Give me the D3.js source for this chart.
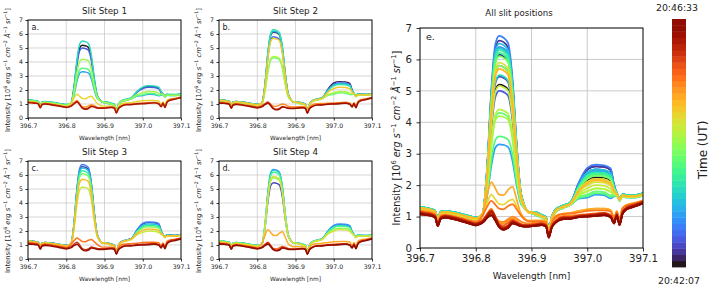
<!DOCTYPE html>
<html><head><meta charset="utf-8">
<script src="https://cdn.jsdelivr.net/npm/d3@7"></script>
<style>body{margin:0;background:#fff} svg{display:block} text{font-family:"DejaVu Sans",sans-serif;fill:#222}</style>
</head><body><svg id="c" width="712" height="287"></svg>
<script>
// ---------------- DATA ----------------
const wavelengths = [396.700,396.710,396.720,396.727,396.732,396.737,396.745,396.760,396.775,396.790,396.800,
  396.806,396.813,396.820,396.828,396.835,396.842,396.850,396.858,396.866,396.873,396.880,396.887,396.895,
  396.905,396.918,396.926,396.931,396.936,396.945,396.957,396.970,
  396.985,397.000,397.015,397.030,397.042,397.048,
  397.053,397.058,397.063,397.070,397.085,397.100];
const xTicks = [396.7,396.8,396.9,397.0,397.1];
const yTicks = [0,1,2,3,4,5,6,7];
const timeLabels = ["20:42:07","20:46:33"];
const nTimes = 40;
const panelTitles = ["Slit Step 1","Slit Step 2","Slit Step 3","Slit Step 4","All slit positions"];
const panelLetters = ["a.","b.","c.","d.","e."];

const quietA = [1.1,1.08,1.05,1.0,0.72,0.95,1.0,0.95,0.88,0.8,0.75, 0.78,0.85,1.0,1.15,0.95,0.7,0.62,0.68,0.82,0.78,0.72,0.7,0.7, 0.72,0.75,0.7,0.35,0.65,0.85,0.95,0.95, 1.0,1.02,1.05,1.08,1.0,0.8, 1.05,0.75,1.1,1.25,1.35,1.45];
const quietB = [1.07,1.05,1.02,0.97,0.7,0.92,0.97,0.92,0.85,0.77,0.72, 0.75,0.82,0.95,1.05,0.88,0.66,0.58,0.64,0.78,0.75,0.7,0.68,0.68, 0.7,0.73,0.68,0.33,0.63,0.83,0.92,0.93, 0.98,1.0,1.02,1.05,0.98,0.78, 1.02,0.73,1.07,1.22,1.32,1.42];
const quietC = [1.13,1.11,1.08,1.03,0.75,0.98,1.03,0.98,0.91,0.83,0.78, 0.81,0.88,1.05,1.2,1.0,0.74,0.66,0.72,0.86,0.81,0.75,0.73,0.73, 0.75,0.78,0.73,0.38,0.68,0.88,0.98,0.98, 1.03,1.05,1.08,1.11,1.03,0.83, 1.08,0.78,1.13,1.28,1.38,1.48];

const step1Times = [0,4,8,12,16,20,24,28,32,36];
const step1Intensity = [
 [1.28,1.25,1.21,1.16,0.9,1.12,1.15,1.11,1.05,0.98,0.94, 0.98,1.10,2.08,3.95,5.0,5.2,5.16,5.04,4.2,2.79,1.69,1.32,1.14, 1.12,1.02,0.95,0.52,0.92,1.22,1.32,1.42, 1.87,2.15,2.25,2.23,2.13,1.86, 1.72,1.55,1.68,1.66,1.65,1.72],
 [1.25,1.22,1.18,1.13,0.87,1.09,1.12,1.08,1.02,0.95,0.91, 0.98,1.10,2.03,3.81,4.8,5.0,4.96,4.84,4.05,2.71,1.67,1.32,1.14, 1.09,0.99,0.92,0.49,0.89,1.19,1.29,1.39, 1.84,2.1,2.2,2.18,2.08,1.84, 1.69,1.52,1.65,1.63,1.62,1.69],
 [1.23,1.2,1.16,1.11,0.85,1.07,1.1,1.06,1.0,0.93,0.89, 0.98,1.06,1.6,2.62,3.19,3.3,3.28,3.21,2.77,2.03,1.46,1.27,1.14, 1.07,0.97,0.9,0.47,0.87,1.17,1.27,1.37, 1.57,1.6,1.7,1.68,1.58,1.64, 1.67,1.5,1.63,1.61,1.6,1.67],
 [1.31,1.28,1.24,1.19,0.93,1.15,1.18,1.14,1.08,1.01,0.97, 0.98,1.11,2.15,4.16,5.28,5.5,5.46,5.32,4.42,2.91,1.73,1.33,1.14, 1.15,1.05,0.98,0.55,0.95,1.25,1.35,1.45, 1.9,2.2,2.3,2.28,2.18,1.88, 1.75,1.58,1.71,1.69,1.68,1.75],
 [1.23,1.2,1.16,1.11,0.85,1.07,1.1,1.06,1.0,0.93,0.89, 0.98,1.07,1.66,2.8,3.43,3.55,3.53,3.45,2.96,2.13,1.49,1.27,1.14, 1.07,0.97,0.9,0.47,0.87,1.17,1.27,1.37, 1.59,1.65,1.75,1.73,1.63,1.66, 1.67,1.5,1.63,1.61,1.6,1.67],
 [1.25,1.22,1.18,1.13,0.87,1.09,1.12,1.08,1.02,0.95,0.91, 0.98,1.08,1.83,3.25,4.05,4.2,4.17,4.08,3.45,2.39,1.57,1.29,1.14, 1.09,0.99,0.92,0.49,0.89,1.19,1.29,1.39, 1.68,1.8,1.9,1.88,1.78,1.72, 1.69,1.52,1.65,1.63,1.62,1.69],
 [1.18,1.15,1.12,1.07,0.8,1.02,1.05,1.0,0.94,0.87,0.83, 0.88,1.07,1.42,1.7,1.55,1.4,1.38,1.49,1.55,1.33,1.08,0.92,0.85, 0.85,0.85,0.82,0.42,0.78,1.02,1.08,1.1, 1.18,1.23,1.25,1.25,1.21,0.95, 1.15,0.9,1.25,1.35,1.42,1.5],
 [1.13,1.1,1.07,1.02,0.74,0.97,1.02,0.97,0.9,0.82,0.77, 0.8,0.88,1.08,1.25,1.0,0.8,0.78,0.86,0.95,0.88,0.78,0.72,0.71, 0.73,0.76,0.71,0.36,0.66,0.87,0.97,0.98, 1.03,1.06,1.08,1.1,1.03,0.82, 1.08,0.78,1.13,1.28,1.38,1.48],
 quietC,
 quietA
];

const step2Times = [1,5,9,13,17,21,25,29,33,37];
const step2Intensity = [
 [1.31,1.28,1.24,1.19,0.93,1.15,1.18,1.14,1.08,1.01,0.97, 0.98,1.12,2.31,4.62,5.9,6.15,6.1,5.95,4.91,3.17,1.81,1.35,1.14, 1.15,1.05,0.98,0.55,0.95,1.25,1.35,1.45, 2.06,2.5,2.6,2.58,2.48,2.0, 1.75,1.58,1.71,1.69,1.68,1.75],
 [1.28,1.25,1.21,1.16,0.9,1.12,1.15,1.11,1.05,0.98,0.94, 0.98,1.11,2.23,4.37,5.57,5.8,5.75,5.61,4.65,3.03,1.76,1.34,1.14, 1.12,1.02,0.95,0.52,0.92,1.22,1.32,1.42, 2.01,2.4,2.5,2.48,2.38,1.96, 1.72,1.55,1.68,1.66,1.65,1.72],
 [1.31,1.28,1.24,1.19,0.93,1.15,1.18,1.14,1.08,1.01,0.97, 0.98,1.12,2.33,4.65,5.95,6.2,6.15,6.0,4.95,3.19,1.81,1.35,1.14, 1.15,1.05,0.98,0.55,0.95,1.25,1.35,1.45, 1.98,2.35,2.45,2.43,2.33,1.94, 1.75,1.58,1.71,1.69,1.68,1.75],
 [1.31,1.28,1.24,1.19,0.93,1.15,1.18,1.14,1.08,1.01,0.97, 0.98,1.12,2.35,4.72,6.04,6.3,6.25,6.09,5.02,3.23,1.82,1.36,1.14, 1.15,1.05,0.98,0.55,0.95,1.25,1.35,1.45, 1.95,2.3,2.4,2.38,2.28,1.92, 1.75,1.58,1.71,1.69,1.68,1.75],
 [1.25,1.22,1.18,1.13,0.87,1.09,1.12,1.08,1.02,0.95,0.91, 0.98,1.08,1.85,3.32,4.14,4.3,4.27,4.17,3.52,2.43,1.58,1.3,1.14, 1.09,0.99,0.92,0.49,0.89,1.19,1.29,1.39, 1.62,1.7,1.8,1.78,1.68,1.68, 1.69,1.52,1.65,1.63,1.62,1.69],
 [1.25,1.22,1.18,1.13,0.87,1.09,1.12,1.08,1.02,0.95,0.91, 0.98,1.09,1.88,3.39,4.24,4.4,4.37,4.27,3.6,2.47,1.6,1.3,1.14, 1.09,0.99,0.92,0.49,0.89,1.19,1.29,1.39, 1.68,1.8,1.9,1.88,1.78,1.72, 1.69,1.52,1.65,1.63,1.62,1.69],
 [1.28,1.25,1.21,1.16,0.9,1.12,1.15,1.11,1.05,0.98,0.94, 0.98,1.11,2.2,4.3,5.47,5.7,5.65,5.52,4.57,2.99,1.75,1.34,1.14, 1.12,1.02,0.95,0.52,0.92,1.22,1.32,1.42, 1.84,2.1,2.2,2.18,2.08,1.84, 1.72,1.55,1.68,1.66,1.65,1.72],
 [1.15,1.12,1.09,1.04,0.77,0.99,1.02,0.97,0.91,0.84,0.8, 0.84,0.92,1.02,1.1,0.98,0.85,0.83,0.92,1.0,0.95,0.85,0.8,0.78, 0.8,0.82,0.78,0.4,0.74,0.96,1.02,1.04, 1.05,1.08,1.1,1.12,1.06,0.88, 1.1,0.82,1.18,1.3,1.38,1.47],
 quietA,
 quietB
];

const step3Times = [2,6,10,14,18,22,26,30,34,38];
const step3Intensity = [
 [1.31,1.28,1.24,1.19,0.93,1.15,1.18,1.14,1.08,1.01,0.97, 0.98,1.13,2.43,4.93,6.33,6.6,6.55,6.38,5.25,3.35,1.86,1.37,1.14, 1.15,1.05,0.98,0.55,0.95,1.25,1.35,1.45, 2.06,2.5,2.6,2.58,2.48,2.0, 1.75,1.58,1.71,1.69,1.68,1.75],
 [1.31,1.28,1.24,1.19,0.93,1.15,1.18,1.14,1.08,1.01,0.97, 0.98,1.13,2.46,5.04,6.47,6.75,6.69,6.52,5.36,3.41,1.88,1.37,1.14, 1.15,1.05,0.98,0.55,0.95,1.25,1.35,1.45, 2.09,2.55,2.65,2.63,2.53,2.02, 1.75,1.58,1.71,1.69,1.68,1.75],
 [1.31,1.28,1.24,1.19,0.93,1.15,1.18,1.14,1.08,1.01,0.97, 0.98,1.13,2.4,4.86,6.23,6.5,6.45,6.28,5.17,3.31,1.85,1.36,1.14, 1.15,1.05,0.98,0.55,0.95,1.25,1.35,1.45, 2.01,2.4,2.5,2.48,2.38,1.96, 1.75,1.58,1.71,1.69,1.68,1.75],
 [1.28,1.25,1.21,1.16,0.9,1.12,1.15,1.11,1.05,0.98,0.94, 0.98,1.12,2.35,4.72,6.04,6.3,6.25,6.09,5.02,3.23,1.82,1.36,1.14, 1.12,1.02,0.95,0.52,0.92,1.22,1.32,1.42, 1.95,2.3,2.4,2.38,2.28,1.92, 1.72,1.55,1.68,1.66,1.65,1.72],
 [1.28,1.25,1.21,1.16,0.9,1.12,1.15,1.11,1.05,0.98,0.94, 0.98,1.12,2.3,4.58,5.85,6.1,6.05,5.9,4.87,3.15,1.8,1.35,1.14, 1.12,1.02,0.95,0.52,0.92,1.22,1.32,1.42, 1.9,2.2,2.3,2.28,2.18,1.88, 1.72,1.55,1.68,1.66,1.65,1.72],
 [1.25,1.22,1.18,1.13,0.87,1.09,1.12,1.08,1.02,0.95,0.91, 0.98,1.1,2.06,3.92,4.95,5.15,5.11,4.99,4.16,2.77,1.69,1.32,1.14, 1.09,0.99,0.92,0.49,0.89,1.19,1.29,1.39, 1.73,1.9,2.0,1.98,1.88,1.76, 1.69,1.52,1.65,1.63,1.62,1.69],
 [1.28,1.25,1.21,1.16,0.9,1.12,1.15,1.11,1.05,0.98,0.94, 0.98,1.11,2.2,4.3,5.47,5.7,5.65,5.52,4.57,2.99,1.75,1.34,1.14, 1.12,1.02,0.95,0.52,0.92,1.22,1.32,1.42, 1.81,2.05,2.15,2.13,2.03,1.82, 1.72,1.55,1.68,1.66,1.65,1.72],
 [1.18,1.15,1.12,1.07,0.8,1.02,1.05,1.0,0.94,0.87,0.83, 0.88,1.05,1.3,1.5,1.38,1.25,1.23,1.34,1.4,1.24,1.06,0.92,0.85, 0.85,0.85,0.82,0.42,0.78,1.02,1.08,1.1, 1.13,1.18,1.2,1.2,1.16,0.95, 1.15,0.9,1.25,1.35,1.42,1.5],
 quietC,
 quietB
];

const step4Times = [3,7,11,15,19,23,27,31,35,39];
const step4Intensity = [
 [1.28,1.25,1.21,1.16,0.9,1.12,1.15,1.11,1.05,0.98,0.94, 0.98,1.11,2.14,4.13,5.23,5.45,5.41,5.28,4.38,2.89,1.72,1.33,1.14, 1.12,1.02,0.95,0.52,0.92,1.22,1.32,1.42, 1.98,2.35,2.45,2.43,2.33,1.94, 1.72,1.55,1.68,1.66,1.65,1.72],
 [1.31,1.28,1.24,1.19,0.93,1.15,1.18,1.14,1.08,1.01,0.97, 0.98,1.13,2.38,4.79,6.14,6.4,6.35,6.19,5.1,3.27,1.84,1.36,1.14, 1.15,1.05,0.98,0.55,0.95,1.25,1.35,1.45, 2.01,2.4,2.5,2.48,2.38,1.96, 1.75,1.58,1.71,1.69,1.68,1.75],
 [1.31,1.28,1.24,1.19,0.93,1.15,1.18,1.14,1.08,1.01,0.97, 0.98,1.13,2.36,4.76,6.09,6.35,6.3,6.14,5.06,3.25,1.83,1.36,1.14, 1.15,1.05,0.98,0.55,0.95,1.25,1.35,1.45, 1.95,2.3,2.4,2.38,2.28,1.92, 1.75,1.58,1.71,1.69,1.68,1.75],
 [1.28,1.25,1.21,1.16,0.9,1.12,1.15,1.11,1.05,0.98,0.94, 0.98,1.12,2.33,4.65,5.95,6.2,6.15,6.0,4.95,3.19,1.81,1.35,1.14, 1.12,1.02,0.95,0.52,0.92,1.22,1.32,1.42, 1.92,2.25,2.35,2.33,2.23,1.9, 1.72,1.55,1.68,1.66,1.65,1.72],
 [1.28,1.25,1.21,1.16,0.9,1.12,1.15,1.11,1.05,0.98,0.94, 0.98,1.11,2.23,4.37,5.57,5.8,5.75,5.61,4.65,3.03,1.76,1.34,1.14, 1.12,1.02,0.95,0.52,0.92,1.22,1.32,1.42, 1.84,2.1,2.2,2.18,2.08,1.84, 1.72,1.55,1.68,1.66,1.65,1.72],
 [1.25,1.22,1.18,1.13,0.87,1.09,1.12,1.08,1.02,0.95,0.91, 0.98,1.12,2.25,4.44,5.66,5.9,5.85,5.71,4.72,3.07,1.78,1.34,1.14, 1.09,0.99,0.92,0.49,0.89,1.19,1.29,1.39, 1.79,2.0,2.1,2.08,1.98,1.8, 1.69,1.52,1.65,1.63,1.62,1.69],
 [1.2,1.17,1.14,1.09,0.82,1.04,1.07,1.02,0.96,0.89,0.85, 0.9,1.11,1.66,2.1,1.9,1.7,1.68,1.85,1.95,1.57,1.14,0.95,0.87, 0.88,0.88,0.84,0.44,0.8,1.04,1.1,1.12, 1.18,1.23,1.25,1.25,1.21,0.97, 1.18,0.92,1.27,1.37,1.44,1.52],
 [1.12,1.1,1.07,1.02,0.74,0.97,1.02,0.97,0.9,0.82,0.77, 0.8,0.87,1.05,1.2,0.97,0.75,0.72,0.8,0.9,0.84,0.76,0.72,0.71, 0.73,0.76,0.71,0.36,0.66,0.87,0.97,0.98, 1.03,1.06,1.08,1.1,1.03,0.82, 1.08,0.78,1.13,1.28,1.38,1.48],
 quietA,
 quietB
];

// ---------------- DRAWING ----------------
const svg = d3.select("#c");
const color = t => d3.interpolateTurbo(t / (nTimes - 1));

function toSeries(times, rows){ return times.map((t,i)=>({t, v: rows[i]})); }
const allSteps = [toSeries(step1Times,step1Intensity),toSeries(step2Times,step2Intensity),
                  toSeries(step3Times,step3Intensity),toSeries(step4Times,step4Intensity)];
const allSeries = allSteps.flat().sort((a,b)=>a.t-b.t);

function intensityLabel(sel, fs){
  const parts = [["Intensity [10",0,0],["6",1,0],[" erg s",0,1],["\u22121",1,0],[" cm",0,1],["\u22122",1,0],
                 [" \u00C5",0,1],["\u22121",1,0],[" sr",0,1],["\u22121",1,0],["]",0,0]];
  let sup = false;
  parts.forEach(([txt,isSup,it])=>{
    const ts = sel.append("tspan").text(txt);
    if(isSup && !sup){ ts.attr("dy", -0.42*fs); sup = true; }
    else if(!isSup && sup){ ts.attr("dy", 0.42*fs); sup = false; }
    ts.attr("font-size", isSup ? fs*0.7 : fs);
    if(it) ts.attr("font-style","italic");
  });
}

const layouts = [
  {l:28, r:181, t:20, b:118, small:true, titleX:104.5, titleY:13.5, ylx:10},
  {l:219, r:372, t:20, b:118, small:true, titleX:295.5, titleY:13.5, ylx:201},
  {l:28, r:181, t:161, b:259, small:true, titleX:104.5, titleY:155, ylx:10},
  {l:219, r:372, t:161, b:259, small:true, titleX:295.5, titleY:155, ylx:201},
  {l:420, r:643, t:28, b:248, small:false, titleX:519, titleY:16, ylx:400}
];

layouts.forEach((L, pi)=>{
  const series = pi < 4 ? allSteps[pi] : allSeries;
  const s = L.small;
  const x = d3.scaleLinear().domain([xTicks[0], xTicks[xTicks.length-1]]).range([L.l, L.r]);
  const y = d3.scaleLinear().domain([yTicks[0], yTicks[yTicks.length-1]]).range([L.b, L.t]);
  const g = svg.append("g");
  const clipId = "clip"+pi;
  svg.append("clipPath").attr("id",clipId).append("rect")
    .attr("x",L.l).attr("y",L.t).attr("width",L.r-L.l).attr("height",L.b-L.t);

  // grid
  g.append("g").selectAll("line").data(xTicks).join("line")
    .attr("x1",d=>x(d)).attr("x2",d=>x(d)).attr("y1",L.t).attr("y2",L.b)
    .attr("stroke","#c4c4c4").attr("stroke-width", s?0.7:0.9);
  g.append("g").selectAll("line").data(yTicks).join("line")
    .attr("y1",d=>y(d)).attr("y2",d=>y(d)).attr("x1",L.l).attr("x2",L.r)
    .attr("stroke","#c4c4c4").attr("stroke-width", s?0.7:0.9);

  // spectra
  const line = d3.line().x((d,i)=>x(wavelengths[i])).y(d=>y(d)).curve(d3.curveMonotoneX);
  g.append("g").attr("clip-path",`url(#${clipId})`)
    .selectAll("path").data(series).join("path")
    .attr("d", d=>line(d.v)).attr("fill","none")
    .attr("stroke", d=>color(d.t)).attr("stroke-width", s?1.45:1.75)
    .attr("stroke-linejoin","round");

  // axes
  const fsTick = s ? 6.2 : 10.2;
  const xa = g.append("g").attr("transform",`translate(0,${L.b})`)
    .call(d3.axisBottom(x).tickValues(xTicks).tickFormat(d3.format(".1f"))
      .tickSize(s?2.5:3.5).tickSizeOuter(0).tickPadding(s?3.4:3));
  const ya = g.append("g").attr("transform",`translate(${L.l},0)`)
    .call(d3.axisLeft(y).tickValues(yTicks).tickFormat(d3.format("d"))
      .tickSize(s?2.5:3.5).tickSizeOuter(0).tickPadding(s?2.5:4.5));
  [xa,ya].forEach(a=>{
    a.attr("font-family",null).attr("font-size",null);
    a.select(".domain").remove();
    a.selectAll("line").attr("stroke","#000").attr("stroke-width",0.8);
    a.selectAll("text").attr("font-size",fsTick).attr("fill","#222");
  });
  // frame
  g.append("rect").attr("x",L.l).attr("y",L.t).attr("width",L.r-L.l).attr("height",L.b-L.t)
    .attr("fill","none").attr("stroke","#000").attr("stroke-width",0.9);

  // labels
  g.append("text").attr("x",L.titleX).attr("y",L.titleY).attr("text-anchor","middle")
    .attr("font-size", s?8.8:8.6).text(panelTitles[pi]);
  g.append("text").attr("x",L.l+(s?3.5:6)).attr("y",L.t+(s?10:12)).attr("font-size", s?8:9.5)
    .text(panelLetters[pi]);
  g.append("text").attr("x",(L.l+L.r)/2).attr("y", L.b + (s?21.5:31))
    .attr("text-anchor","middle").attr("font-size", s?5.9:9).text("Wavelength [nm]");
  const yl = g.append("text").attr("text-anchor","middle")
    .attr("transform",`translate(${L.ylx},${(L.t+L.b)/2 + (s?1:0)}) rotate(-90)`);
  intensityLabel(yl, s?6.8:9.6);
});

// colorbar
const cb = {l:672, r:686, t:19, b:267};
const cy = d3.scaleLinear().domain([0, nTimes]).range([cb.b, cb.t]);
svg.append("g").selectAll("rect").data(d3.range(nTimes)).join("rect")
  .attr("x",cb.l).attr("width",cb.r-cb.l)
  .attr("y",d=>cy(d+1)).attr("height",d=>cy(d)-cy(d+1)+0.4)
  .attr("fill",d=>color(d));
svg.append("text").attr("x",677).attr("y",11).attr("text-anchor","middle").attr("font-size",9.4).text(timeLabels[1]);
svg.append("text").attr("x",679).attr("y",284).attr("text-anchor","middle").attr("font-size",9.4).text(timeLabels[0]);
svg.append("text").attr("text-anchor","middle").attr("font-size",12)
  .attr("transform","translate(707,150) rotate(-90)").text("Time (UT)");
</script></body></html>
